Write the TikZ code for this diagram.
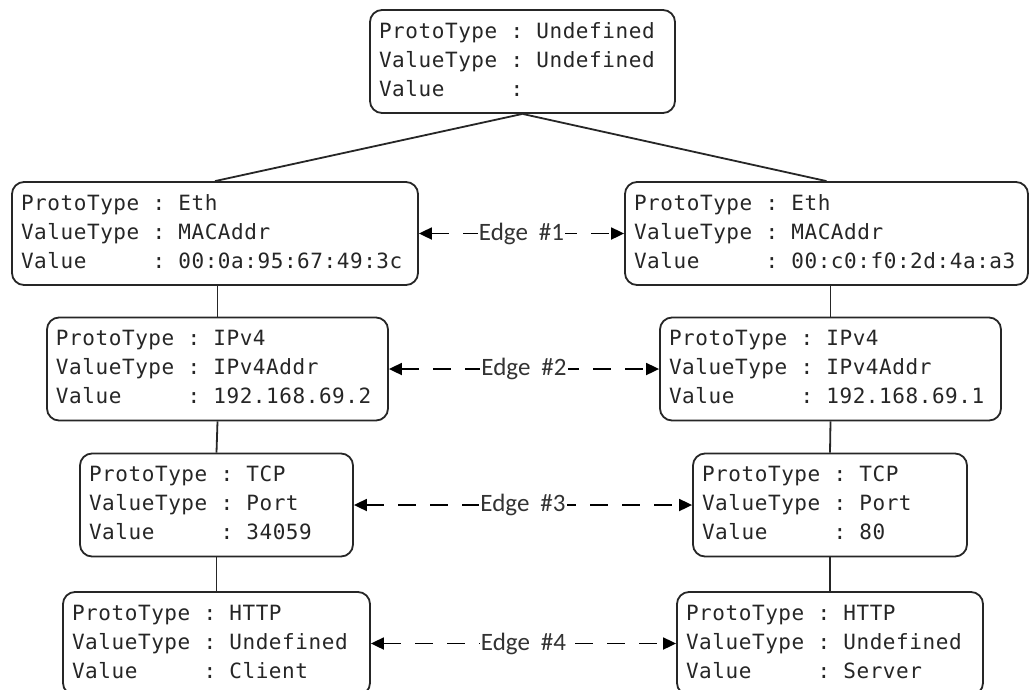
\documentclass[tikz,border=0pt]{standalone}
\usepackage{fontspec}
\usetikzlibrary{arrows.meta}
\newfontfamily\recfont[LetterSpace=2.7]{DejaVu Sans Mono}
\newfontfamily\edgefont{Carlito}
\newcommand\rec[3]{{\recfont\fontsize{21}{29}\selectfont
\begin{tabular}{@{}l@{\hspace{13.2pt}:\hspace{13.2pt}}l@{}}ProtoType & #1\\ValueType & #2\\Value & #3\end{tabular}}}
\begin{document}
\begin{tikzpicture}[x=1pt,y=-1pt,
  box/.style={draw=black!85, line width=1.8pt, rounded corners=12pt,
    minimum height=103pt, inner xsep=9pt, inner ysep=0pt,
    text width=#1, align=left, text=black!85},
  link/.style={draw=black!85, line width=1.8pt},
  edgeline/.style={draw=black, line width=1.8pt, dash pattern=on 18pt off 14pt,
    {Triangle[length=13pt,width=12pt]}-{Triangle[length=13pt,width=12pt]}},
  edgelabel/.style={fill=white, inner sep=1pt, text=black!80,
    font=\edgefont\fontsize{25}{27}\selectfont}]
\useasboundingbox (0,0) rectangle (1029,689);
\clip (0,0) rectangle (1029,689);
\fill[white] (0,0) rectangle (1029,689);

\node[box=287pt] (top) at (522.5,61.5) {\rec{Undefined}{Undefined}{}};

\node[box=388pt] (ethL) at (215,233.5) {\rec{Eth}{MACAddr}{00:0a:95:67:49:3c}};
\node[box=385pt] (ethR) at (826.5,233.5) {\rec{Eth}{MACAddr}{00:c0:f0:2d:4a:a3}};

\node[box=323pt] (ipL) at (217.5,369) {\rec{IPv4}{IPv4Addr}{192.168.69.2}};
\node[box=323pt] (ipR) at (830.5,369) {\rec{IPv4}{IPv4Addr}{192.168.69.1}};

\node[box=255pt] (tcpL) at (216.5,505) {\rec{TCP}{Port}{34059}};
\node[box=256pt] (tcpR) at (830,505) {\rec{TCP}{Port}{80}};

\node[box=289pt] (httpL) at (216.5,643.5) {\rec{HTTP}{Undefined}{Client}};
\node[box=288pt] (httpR) at (830,643.5) {\rec{HTTP}{Undefined}{Server}};

\draw[link] (top.south) -- (ethL.north);
\draw[link] (top.south) -- (ethR.north);
\draw[link] (ipL.north |- ethL.south) -- (ipL.north);
\draw[link] (ipL.south) -- (tcpL.north);
\draw[link] (tcpL.south) -- (httpL.north);
\draw[link] (ipR.north |- ethR.south) -- (ipR.north);
\draw[link] (ipR.south) -- (tcpR.north);
\draw[link] (tcpR.south) -- (httpR.north);

\draw[edgeline] (ethL.east) -- node[edgelabel] (e1) {Edge\hspace{11pt}\#1} (ethR.west);
\draw[edgeline] (ipL.east) -- node[edgelabel] (e2) {Edge\hspace{11pt}\#2} (ipR.west);
\draw[edgeline] (tcpL.east) -- node[edgelabel] (e3) {Edge\hspace{11pt}\#3} (tcpR.west);
\draw[edgeline] (httpL.east) -- node[edgelabel] (e4) {Edge\hspace{11pt}\#4} (httpR.west);
\end{tikzpicture}
\end{document}
